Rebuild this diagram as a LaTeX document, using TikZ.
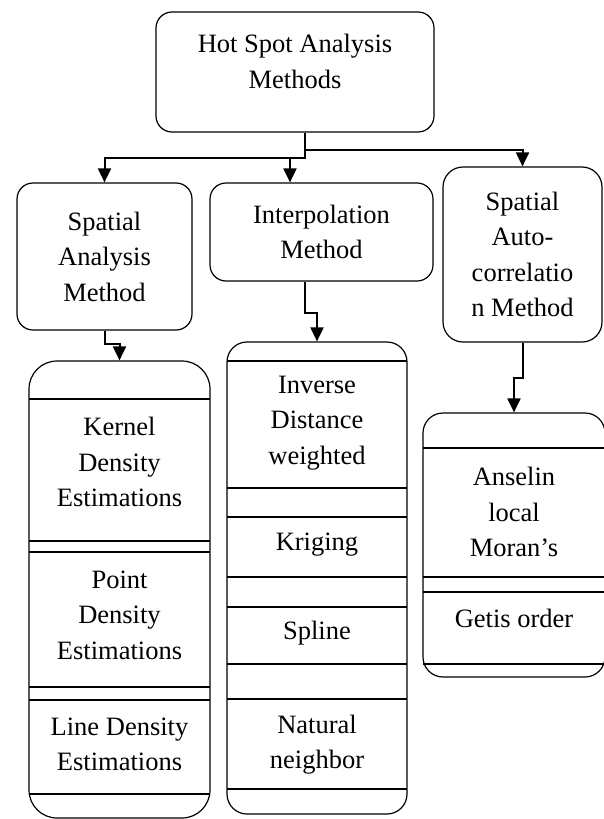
\documentclass[tikz,border=0pt]{standalone}
\usepackage{fontspec}
\setmainfont{Liberation Serif}
\usetikzlibrary{arrows.meta}

\tikzset{
	box/.style={draw, rounded corners=16pt, line width=1.2pt, inner sep=0pt, align=center},
	colbox/.style={draw, line width=1.2pt, inner sep=0pt},
	item/.style={align=center, inner sep=0pt},
	conn/.style={line width=2pt, -{Triangle[width=13pt,length=14pt]}},
	sep/.style={line width=1.2pt}
}

\begin{document}
\begin{tikzpicture}[x=1pt, y=-1pt, font=\fontsize{26.5}{35.5}\selectfont]
			%%%%% START %%%%%
			\useasboundingbox (0,0) rectangle (603,819);
			
			\node[box, minimum width=278pt, minimum height=120pt] (hot) at (295,72) {};
			\node[item] (hottext) at (295,61.5) {Hot Spot Analysis\\Methods};
			
			\node[box, minimum width=175pt, minimum height=147pt] (sa) at (104.5,256.5) {Spatial\\Analysis\\Method};
			\node[box, minimum width=223pt, minimum height=98pt] (interp) at (321.5,232) {Interpolation\\Method};
			\node[box, rounded corners=20pt, minimum width=159pt, minimum height=175pt] (auto) at (522.5,254.5) {Spatial\\Auto-\\correlatio\\n Method};
			
			\draw[conn] ([xshift=10pt]hot.south) -- ++(0,25) -| (sa.north);
			\draw[conn] ([xshift=10pt]hot.south) -- ++(0,25) -| ([xshift=-31.5pt]interp.north);
			\draw[conn] ([xshift=10pt]hot.south) -- ++(0,17) -| (auto.north);
			
			\node[colbox, rounded corners=28pt, minimum width=181pt, minimum height=457pt] (kdcol) at (119.5,589.5) {};
			\draw[sep] (29,399) -- (210,399);
			\draw[sep] (29,541) -- (210,541);
			\draw[sep] (29,552) -- (210,552);
			\draw[sep] (29,687) -- (210,687);
			\draw[sep] (29,700) -- (210,700);
			\draw[sep] (29,794) -- (210,794);
			\node[item] (kernel) at (119.5,462) {Kernel\\Density\\Estimations};
			\node[item] (point) at (119.5,615) {Point\\Density\\Estimations};
			\node[item] (linedens) at (119.5,744.5) {Line Density\\Estimations};
			
			\node[colbox, rounded corners=20pt, minimum width=180pt, minimum height=472pt] (ipcol) at (317,578) {};
			\draw[sep] (227,361) -- (407,361);
			\draw[sep] (227,488) -- (407,488);
			\draw[sep] (227,517) -- (407,517);
			\draw[sep] (227,577) -- (407,577);
			\draw[sep] (227,607) -- (407,607);
			\draw[sep] (227,664) -- (407,664);
			\draw[sep] (227,699) -- (407,699);
			\draw[sep] (227,789) -- (407,789);
			\node[item] (idw) at (317,423) {Inverse\\Distance\\weighted};
			\node[item] (kriging) at (317,545) {Kriging};
			\node[item] (spline) at (317,633) {Spline};
			\node[item] (natural) at (317,744.5) {Natural\\neighbor};
			
			\node[colbox, rounded corners=20pt, minimum width=182pt, minimum height=264pt] (accol) at (514,545) {};
			\draw[sep] (423,448) -- (605,448);
			\draw[sep] (423,577) -- (605,577);
			\draw[sep] (423,592) -- (605,592);
			\draw[sep] (423,664) -- (605,664);
			\node[item] (anselin) at (514,512) {Anselin\\local\\Moran’s};
			\node[item] (getis) at (514,618) {Getis order};
			
			\draw[conn] (sa.south) -- ++(0,13) -| (kdcol.north);
			\draw[conn] ([xshift=-16.5pt]interp.south) -- ++(0,31) -| (ipcol.north);
			\draw[conn] (auto.south) -- ++(0,35) -| (accol.north);
			
			%%%%% END %%%%%
\end{tikzpicture}
\end{document}
